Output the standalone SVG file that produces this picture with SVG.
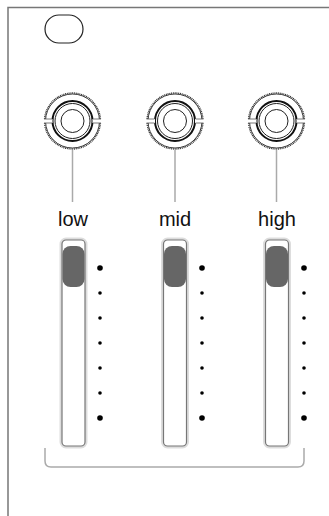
<svg xmlns="http://www.w3.org/2000/svg" width="329" height="516" viewBox="0 0 329 516">
<defs>
<style>
.frame{fill:none;stroke:#777;stroke-width:1.5}
.teeth{fill:none;stroke:#333;stroke-width:1.4;stroke-dasharray:1 0.8}
.ring{fill:none;stroke:#222;stroke-width:0.9}
.thick{fill:none;stroke:#111;stroke-width:2}
.thin{fill:none;stroke:#222;stroke-width:1}
.notch{stroke:#555;stroke-width:0.8}
.stem{stroke:#aaa;stroke-width:1.5}
.label{font-family:"Liberation Sans",Arial,sans-serif;font-size:20px;fill:#111;text-anchor:middle}
.slot-out{fill:none;stroke:#ddd;stroke-width:3}
.slot-in{fill:#fff;stroke:#777;stroke-width:1.2}
.thumb{fill:#666}
.dot{fill:#000}
.bracket{fill:none;stroke:#aaa;stroke-width:1.5}
</style>
<g id="knob-shape">
<circle class="teeth" r="28"/>
<circle class="ring" r="27"/>
<circle class="thick" r="20"/>
<circle class="thin" r="17.5"/>
<circle class="thin" r="11.5"/>
<rect x="-29.5" y="-2" width="9.5" height="4" fill="#fff"/>
<rect x="20" y="-2" width="9.5" height="4" fill="#fff"/>
<line class="notch" x1="-28.5" y1="-2" x2="-20.5" y2="-2"/>
<line class="notch" x1="-28.5" y1="2" x2="-20.5" y2="2"/>
<line class="notch" x1="20.5" y1="-2" x2="28.5" y2="-2"/>
<line class="notch" x1="20.5" y1="2" x2="28.5" y2="2"/>
</g>
<g id="slider-shape">
<rect class="slot-out" x="-12.5" y="0" width="25" height="208" rx="5"/>
<rect class="slot-in" x="-11.5" y="1" width="23" height="206" rx="4"/>
<rect class="thumb" x="-11" y="7" width="22" height="41" rx="8"/>
</g>
<g id="dots-shape">
<circle class="dot" cx="0" cy="268" r="2.8"/>
<circle class="dot" cx="0" cy="293" r="1.8"/>
<circle class="dot" cx="0" cy="318" r="1.8"/>
<circle class="dot" cx="0" cy="343" r="1.8"/>
<circle class="dot" cx="0" cy="368" r="1.8"/>
<circle class="dot" cx="0" cy="393" r="1.8"/>
<circle class="dot" cx="0" cy="418" r="2.8"/>
</g>
</defs>
<rect width="329" height="516" fill="#fff"/>
<g id="panel">
<path class="frame" d="M8,516 V7.5 H329"/>
<rect x="45" y="15" width="38" height="28" rx="14" fill="none" stroke="#222" stroke-width="1.2"/>
</g>
<g id="connectors">
<line class="stem" x1="72.5" y1="150" x2="72.5" y2="202"/>
<line class="stem" x1="175" y1="150" x2="175" y2="202"/>
<line class="stem" x1="276.5" y1="150" x2="276.5" y2="202"/>
<path class="bracket" d="M45,448 V461 Q45,467 51,467 H298 Q304,467 304,461 V448"/>
</g>
<g id="knob-low"><use href="#knob-shape" x="72.5" y="121"/><text class="label" x="73" y="226">low</text></g>
<g id="knob-mid"><use href="#knob-shape" x="175" y="121"/><text class="label" x="175" y="226">mid</text></g>
<g id="knob-high"><use href="#knob-shape" x="276.5" y="121"/><text class="label" x="277" y="226">high</text></g>
<g id="slider-low"><use href="#slider-shape" x="73.5" y="239"/><use href="#dots-shape" x="100"/></g>
<g id="slider-mid"><use href="#slider-shape" x="175" y="239"/><use href="#dots-shape" x="202"/></g>
<g id="slider-high"><use href="#slider-shape" x="277" y="239"/><use href="#dots-shape" x="304"/></g>
</svg>
